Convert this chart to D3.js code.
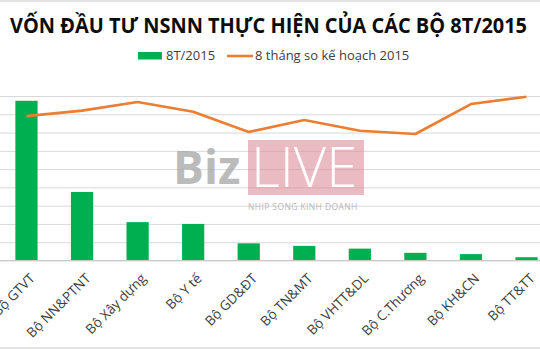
<!DOCTYPE html>
<html>
<head>
<meta charset="utf-8">
<script src="https://cdnjs.cloudflare.com/ajax/libs/d3/7.8.5/d3.min.js"></script>
<style>
  body { margin: 0; background: #fff; }
  svg { display: block; font-family: 'Open Sans', sans-serif; }
</style>
</head>
<body>
<svg id="chart" width="540" height="350"></svg>
<script>
'use strict'

// data (bars in tỷ đồng, line in % of plan)
const ministries = ['Bộ GTVT', 'Bộ NN&PTNT', 'Bộ Xây dựng', 'Bộ Y tế', 'Bộ GD&ĐT',
    'Bộ TN&MT', 'Bộ VHTT&DL', 'Bộ C.Thương', 'Bộ KH&CN', 'Bộ TT&TT']
const done8T = [17480, 7500, 4200, 4000, 1880, 1600, 1300, 840, 700, 360]
const pctPlan = [79.0, 82.0, 86.7, 81.4, 70.3, 76.9, 71.0, 69.2, 85.6, 89.6]
const gridTicks = [0, 2000, 4000, 6000, 8000, 10000, 12000, 14000, 16000, 18000]

const barColor = '#00b050'
const lineColor = '#ed7d31'

const svg = d3.select('#chart')
const width = 540

// frame lines at top and bottom of the image
svg.append('rect').attr('x', 0).attr('y', 0).attr('width', width).attr('height', 2).attr('fill', '#e3e3e3')
svg.append('rect').attr('x', 0).attr('y', 347).attr('width', width).attr('height', 2).attr('fill', '#e3e3e3')

const x = d3.scaleBand()
    .domain(ministries)
    .range([-1.3, 554.3])
    .paddingInner(0.6)
    .paddingOuter(0.3)

const y = d3.scaleLinear().domain([0, 18000]).range([260.5, 96])
const y2 = d3.scaleLinear().domain([0, 90]).range([260.5, 96])

// gridlines only, the value labels are outside the crop
const grid = svg.append('g')
    .attr('class', 'grid')
    .call(d3.axisLeft(y).tickValues(gridTicks).tickSize(-width).tickFormat(''))
grid.select('.domain').remove()
grid.selectAll('line').attr('stroke', '#d9d9d9').attr('stroke-width', 1)

// watermark
const wm = svg.append('g').attr('class', 'watermark')
wm.append('text')
    .attr('x', 173).attr('y', 183.5)
    .attr('font-size', 46).attr('font-weight', 'bold')
    .attr('fill', '#a9a9a9').attr('fill-opacity', 0.8)
    .text('Biz')
wm.append('rect')
    .attr('x', 248).attr('y', 140).attr('width', 116).attr('height', 55)
    .attr('fill', '#dc8e99').attr('fill-opacity', 0.6)
wm.append('text')
    .attr('x', 251).attr('y', 187)
    .attr('font-size', 56).attr('font-weight', 300)
    .attr('fill', '#fff')
    .text('LIVE')
wm.append('text')
    .attr('x', 248).attr('y', 210)
    .attr('font-size', 8.5)
    .attr('letter-spacing', 0.4)
    .attr('fill', '#b8b8b8')
    .text('NHIP SONG KINH DOANH')

// bars
svg.append('g').selectAll('rect')
    .data(done8T)
    .join('rect')
    .attr('x', (d, i) => x(ministries[i]))
    .attr('y', d => y(d))
    .attr('width', x.bandwidth())
    .attr('height', d => y(0) - y(d))
    .attr('fill', barColor)

// baseline
svg.append('line')
    .attr('x1', 0).attr('x2', width)
    .attr('y1', y(0)).attr('y2', y(0))
    .attr('stroke', '#c8c8c8')

// line series
const line = d3.line()
    .x((d, i) => x(ministries[i]) + x.bandwidth() / 2)
    .y(d => y2(d))
svg.append('path')
    .datum(pctPlan)
    .attr('d', line)
    .attr('fill', 'none')
    .attr('stroke', lineColor)
    .attr('stroke-width', 2.6)
    .attr('stroke-linejoin', 'round')

// category labels, rotated
svg.append('g').selectAll('text')
    .data(ministries)
    .join('text')
    .attr('transform', d => 'translate(' + (x(d) + x.bandwidth() / 2 + 6) + ',' + 276 + ') rotate(-45)')
    .attr('text-anchor', 'end')
    .attr('dy', '0.35em')
    .attr('font-size', 13.5)
    .attr('fill', '#404040')
    .text(d => d)

// title, squeezed to the width it has in the picture
svg.append('text')
    .attr('x', 10).attr('y', 32.5)
    .attr('font-size', 21)
    .attr('font-weight', 'bold')
    .attr('fill', '#0d0d0d')
    .attr('textLength', 517)
    .attr('lengthAdjust', 'spacingAndGlyphs')
    .text('VỐN ĐẦU TƯ NSNN THỰC HIỆN CỦA CÁC BỘ 8T/2015')

// legend
const legend = svg.append('g').attr('font-size', 13).attr('fill', '#404040')
legend.append('rect')
    .attr('x', 138).attr('y', 52).attr('width', 24).attr('height', 7.5)
    .attr('fill', barColor)
legend.append('text').attr('x', 166).attr('y', 60).text('8T/2015')
legend.append('line')
    .attr('x1', 227).attr('x2', 253).attr('y1', 56).attr('y2', 56)
    .attr('stroke', lineColor).attr('stroke-width', 2.6)
legend.append('text').attr('x', 255).attr('y', 60).text('8 tháng so kế hoạch 2015')
</script>
</body>
</html>
